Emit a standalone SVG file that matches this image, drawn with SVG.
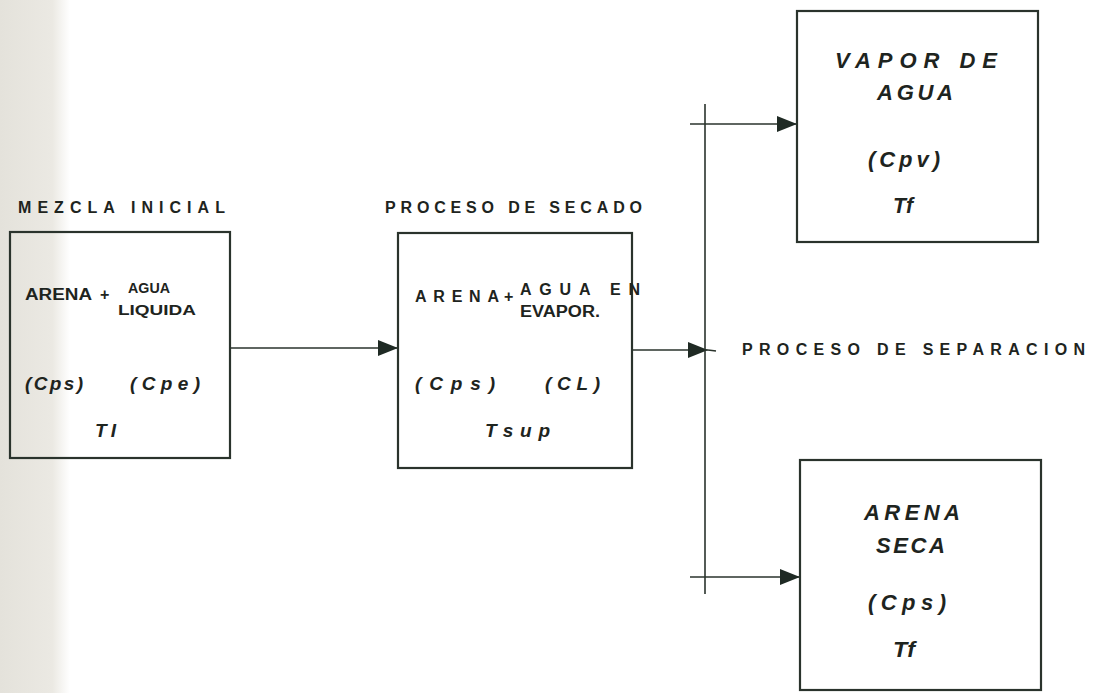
<svg xmlns="http://www.w3.org/2000/svg" width="1094" height="693" viewBox="0 0 1094 693">
<defs>
<linearGradient id="band" x1="0" y1="0" x2="1" y2="0">
<stop offset="0" stop-color="#e4e2db"/>
<stop offset="0.75" stop-color="#ebe9e3"/>
<stop offset="1" stop-color="#ffffff"/>
</linearGradient>
<marker id="arr" viewBox="0 0 20 16" refX="20" refY="8" markerWidth="20" markerHeight="16" markerUnits="userSpaceOnUse" orient="auto">
<path d="M0,0 L20,8 L0,16 Z" fill="#1f2a24"/>
</marker>
<style>
.box{fill:none;stroke:#2a332c;stroke-width:2.2}
.ln{fill:none;stroke:#2a332c;stroke-width:1.6}
.t{font-family:"Liberation Sans",Arial,sans-serif;font-weight:bold;fill:#1e2420;font-size:16px}
.s{font-size:14px}
.i{font-style:italic;font-size:19px}
.b{font-size:22px}
</style>
</defs>
<rect x="0" y="0" width="1094" height="693" fill="#ffffff"/>
<rect x="0" y="0" width="70" height="693" fill="url(#band)"/>

<g id="connectors">
<line class="ln" x1="230" y1="348" x2="398" y2="348" marker-end="url(#arr)"/>
<line class="ln" x1="632" y1="350" x2="708" y2="350" marker-end="url(#arr)"/>
<line class="ln" x1="708" y1="350" x2="716" y2="351"/>
<line class="ln" x1="705" y1="104" x2="705" y2="594"/>
<line class="ln" x1="690" y1="124" x2="797" y2="124" marker-end="url(#arr)"/>
<line class="ln" x1="690" y1="577" x2="800" y2="577" marker-end="url(#arr)"/>
</g>

<g id="mezcla">
<text class="t" x="18" y="213" textLength="207" lengthAdjust="spacing">MEZCLA   INICIAL</text>
<rect class="box" x="10" y="232" width="220" height="226"/>
<text class="t" x="25" y="300" textLength="67" lengthAdjust="spacingAndGlyphs">ARENA</text>
<text class="t" x="100" y="300">+</text>
<text class="t s" x="128" y="293" textLength="42" lengthAdjust="spacingAndGlyphs">AGUA</text>
<text class="t s" x="118" y="315" textLength="78" lengthAdjust="spacingAndGlyphs">LIQUIDA</text>
<text class="t i" x="25" y="390" textLength="58" lengthAdjust="spacing">(Cps)</text>
<text class="t i" x="130" y="390" textLength="70" lengthAdjust="spacing">(Cpe)</text>
<text class="t i" x="95" y="437" textLength="21" lengthAdjust="spacing">TI</text>
</g>

<g id="secado">
<text class="t" x="385" y="213" textLength="257" lengthAdjust="spacing">PROCESO  DE  SECADO</text>
<rect class="box" x="398" y="233" width="234" height="235"/>
<text class="t" x="415" y="302" textLength="84" lengthAdjust="spacing">ARENA</text>
<text class="t" x="504" y="302">+</text>
<text class="t" x="520" y="295" textLength="120" lengthAdjust="spacing">AGUA  EN</text>
<text class="t" x="520" y="317" textLength="80" lengthAdjust="spacingAndGlyphs">EVAPOR.</text>
<text class="t i" x="415" y="390" textLength="80" lengthAdjust="spacing">(Cps)</text>
<text class="t i" x="545" y="390" textLength="55" lengthAdjust="spacing">(CL)</text>
<text class="t i" x="485" y="437" textLength="65" lengthAdjust="spacing">Tsup</text>
</g>

<g id="separacion">
<text class="t" x="742" y="355" textLength="343" lengthAdjust="spacing">PROCESO    DE    SEPARACION</text>
</g>

<g id="vapor">
<rect class="box" x="797" y="11" width="241" height="231"/>
<text class="t i b" x="835" y="68" textLength="162" lengthAdjust="spacing">VAPOR   DE</text>
<text class="t i b" x="877" y="100" textLength="76" lengthAdjust="spacing">AGUA</text>
<text class="t i b" x="868" y="167" textLength="72" lengthAdjust="spacing">(Cpv)</text>
<text class="t i b" x="893" y="213" textLength="20" lengthAdjust="spacingAndGlyphs">Tf</text>
</g>

<g id="arena-seca">
<rect class="box" x="800" y="460" width="241" height="230"/>
<text class="t i b" x="864" y="520" textLength="96" lengthAdjust="spacing">ARENA</text>
<text class="t i b" x="876" y="553" textLength="69" lengthAdjust="spacing">SECA</text>
<text class="t i b" x="868" y="610" textLength="78" lengthAdjust="spacing">(Cps)</text>
<text class="t i b" x="893" y="657" textLength="22" lengthAdjust="spacingAndGlyphs">Tf</text>
</g>
</svg>
